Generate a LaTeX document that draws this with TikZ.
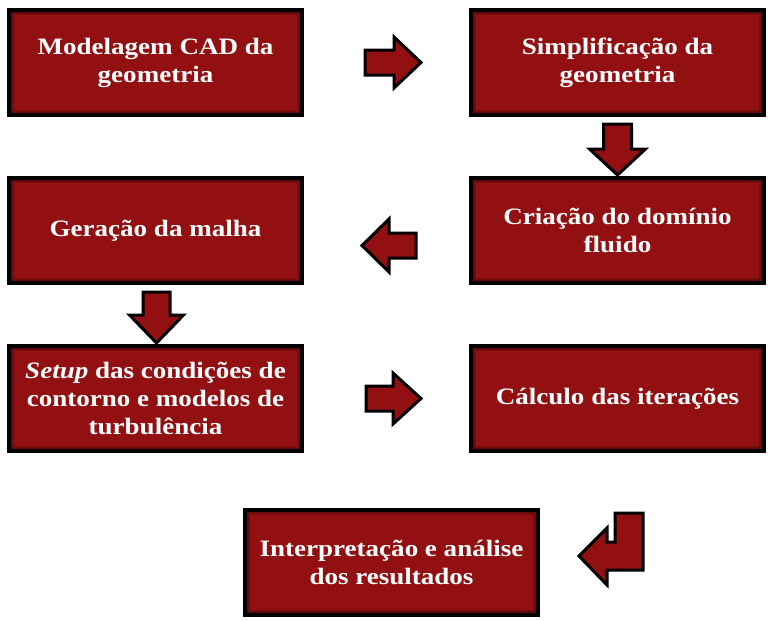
\documentclass[tikz,border=0pt]{standalone}
\usepackage{fontspec}
\setmainfont{Liberation Serif}[FakeStretch=1.15]
\usepackage{xcolor}
\usetikzlibrary{positioning}
\definecolor{boxred}{RGB}{146,16,18}
\tikzstyle{stepbox} = [rectangle, minimum width=293pt, minimum height=105pt, align=center, draw=black, line width=4pt, fill=boxred, text=white, font=\fontsize{23.5}{28}\selectfont\bfseries,
	path picture={\draw[boxred!82!black, line width=10pt] (path picture bounding box.south west) rectangle (path picture bounding box.north east);
		\draw[boxred!65!black, line width=7pt] (path picture bounding box.south west) rectangle (path picture bounding box.north east);}]
\tikzstyle{blockarrow} = [draw=black, line width=3pt, fill=boxred, line join=miter]

\begin{document}
\begin{tikzpicture}[x=1pt, y=-1pt, node distance = 168pt]
	\useasboundingbox (0,0) rectangle (779,621);
	\node (cad) [stepbox] at (155.5,62.5) {Modelagem CAD da\\geometria};
	\node (simp) [stepbox, right of=cad, xshift=294pt] {Simplificação da\\geometria};
	\node (dominio) [stepbox, below of=simp] {Criação do domínio\\fluido};
	\node (malha) [stepbox, below of=cad] {Geração da malha};
	\node (setup) [stepbox, below of=malha] {\textit{Setup} das condições de\\contorno e modelos de\\turbulência};
	\node (iter) [stepbox, below of=dominio] {Cálculo das iterações};
	\node (result) [stepbox, below of=setup, xshift=236pt, yshift=4.5pt] {Interpretação e análise\\dos resultados};

	\draw [blockarrow, shift={(cad.east)}] (61,-12.5) -- (90,-12.5) -- (90,-25.5) -- (117,0) -- (90,25.5) -- (90,12.5) -- (61,12.5) -- cycle;
	\draw [blockarrow, shift={(simp.south)}] (-14,7) -- (14,7) -- (14,32) -- (28,32) -- (0,58) -- (-28,32) -- (-14,32) -- cycle;
	\draw [blockarrow, shift={(dominio.west)}] (-53,2.5) -- (-80,2.5) -- (-80,-11.5) -- (-107,15) -- (-80,41.5) -- (-80,27.5) -- (-53,27.5) -- cycle;
	\draw [blockarrow, shift={(malha.south)}] (-12.5,7) -- (14.5,7) -- (14.5,30) -- (28,30) -- (1,58) -- (-26,30) -- (-12.5,30) -- cycle;
	\draw [blockarrow, shift={(setup.east)}] (62,-12.5) -- (89,-12.5) -- (89,-25.5) -- (117,0) -- (89,25.5) -- (89,12.5) -- (62,12.5) -- cycle;
	\draw [blockarrow, shift={(iter.south)}] (25.5,60) -- (-2.5,60) -- (-2.5,89) -- (-10.5,89) -- (-10.5,75) -- (-38.5,103) -- (-10.5,132) -- (-10.5,117) -- (25.5,117) -- cycle;
\end{tikzpicture}
\end{document}
